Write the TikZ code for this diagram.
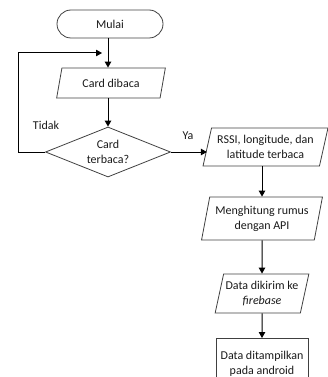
\documentclass[tikz,border=0pt]{standalone}
\usepackage{fontspec}
\setmainfont{Carlito}
\usetikzlibrary{shapes.geometric,shapes.misc,arrows.meta}
\tikzset{
  base/.style={draw=black!75, line width=0.8pt, inner sep=0pt, align=center,
    font=\fontsize{12}{15}\selectfont, text=black!90},
  term/.style={base, rounded rectangle, minimum width=106pt, minimum height=28pt},
  io/.style={base, trapezium, trapezium left angle=#1, trapezium right angle=180-#1,
    trapezium stretches=true},
  decision/.style={base, diamond, aspect=2.5, minimum width=125pt, minimum height=50pt},
  procbox/.style={base, rectangle, minimum width=92pt, minimum height=50pt},
  arr/.style={draw=black, line width=1pt, -{Triangle[length=6pt,width=6.5pt]}},
  lbl/.style={font=\fontsize{12}{14}\selectfont, text=black!90, inner sep=0pt}
}
\begin{document}
\begin{tikzpicture}[x=1pt,y=-1pt]
\useasboundingbox (0,0) rectangle (328,377);
\clip (0,0) rectangle (328,377);
\node[term] (mulai) at (110,24) {Mulai};
\node[io=70, minimum width=109pt, minimum height=30pt] (card) at (111,83) {Card dibaca};
\node[decision] (dec) at (108,152) {Card\\terbaca?};
\node[io=72, minimum width=125pt, minimum height=38pt] (rssi) at (265.5,147) {RSSI, longitude, dan\\latitude terbaca};
\node[io=74, minimum width=121pt, minimum height=43pt] (mh) at (262,218.5) {Menghitung rumus\\dengan API};
\node[io=72, minimum width=94pt, minimum height=39pt] (kirim) at (262,293.5) {Data dikirim ke\\\textit{firebase}};
\node[procbox, anchor=north] (tampil) at (262,338) {Data ditampilkan\\pada android};
\node[lbl] (tidak) at (46,125) {Tidak};
\node[lbl] (ya) at (188,136) {Ya};
\coordinate (loopend) at (102,53);
\draw[arr] (mulai.south -| dec.north) -- (card.north -| dec.north);
\draw[arr] (card.south -| dec.north) -- (dec.north);
\draw[arr] (dec.west) -- ++(-27,0) |- (loopend);
\draw[arr] (dec.east) -- (dec.east -| rssi.west);
\draw[arr] (rssi.south -| mh.north) -- (mh.north);
\draw[arr] (mh.south) -- (kirim.north);
\draw[arr] (kirim.south) -- (tampil.north);
\end{tikzpicture}
\end{document}
